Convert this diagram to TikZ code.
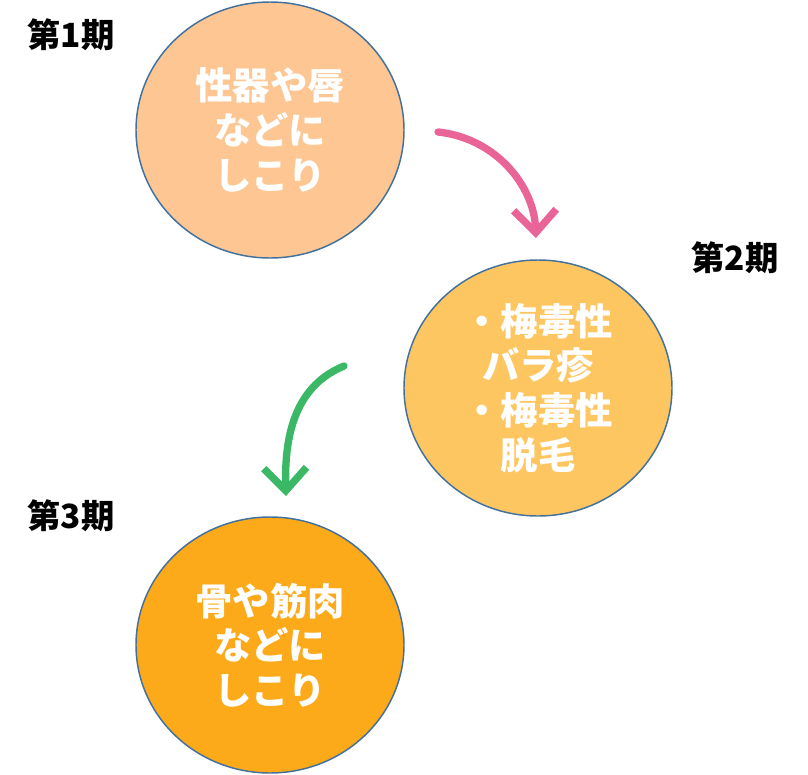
\documentclass[tikz,border=0pt]{standalone}
\usepackage{fontspec}
\setmainfont{Noto Sans CJK JP}
\usepackage{xcolor}
\definecolor{stageone}{HTML}{FDC692}
\definecolor{stagetwo}{HTML}{FEC660}
\definecolor{stagethree}{HTML}{FCA91A}
\definecolor{rimblue}{HTML}{41719C}
\definecolor{crayonpink}{HTML}{EA6597}
\definecolor{crayongreen}{HTML}{3BB865}
\usetikzlibrary{arrows.meta,positioning,shapes.geometric}
\tikzset{
  stagenode/.style={
    ellipse, draw=rimblue, line width=1.1pt, inner sep=0pt,
    minimum width=201pt, minimum height=192pt, align=center,
    text=white, font=\bfseries\fontsize{28}{33.5}\selectfont
  },
  phaselabel/.style={font=\bfseries\fontsize{25}{28}\selectfont, text=black},
  crayon/.style={line width=5.5pt, line cap=round, line join=round,
    -{Straight Barb[length=17pt, width=32pt, line width=5.5pt]}}
}

\begin{document}
\begin{tikzpicture}[x=0.75pt,y=-0.75pt]
  \useasboundingbox (0,0) rectangle (808,775);

  % Stage circles
  \node[stagenode, fill=stageone] (one) at (270,130)
  {性器や唇\\などに\\しこり};

  \node[stagenode, fill=stagetwo] (two) at (538,388)
  {・梅毒性\\バラ疹\\・梅毒性\\脱毛};

  \node[stagenode, fill=stagethree] (three) at (270,645)
  {骨や筋肉\\などに\\しこり};

  % Phase labels
  \node[phaselabel] (lone) at (71,35) {第1期};
  \node[phaselabel] (ltwo) at (735,258) {第2期};
  \node[phaselabel] (lthree) at (71,516) {第3期};

  % Hand-drawn arrows
  \coordinate (pinkstart) at (438,132);
  \coordinate (pinkend) at (536,238);
  \coordinate (greenstart) at (344,366);
  \coordinate (greenend) at (286,496);

  \draw[crayon, draw=crayonpink] (pinkstart)
    .. controls (495,138) and (534,185) .. (pinkend);
  \draw[crayon, draw=crayongreen] (greenstart)
    .. controls (298,385) and (284,430) .. (greenend);

\end{tikzpicture}
\end{document}
